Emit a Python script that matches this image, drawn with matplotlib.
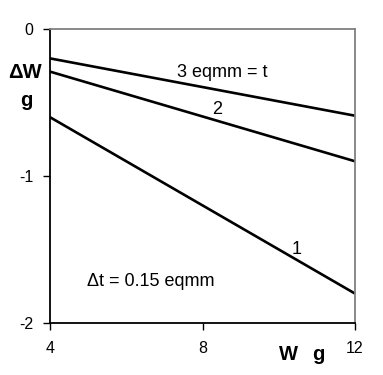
import matplotlib
matplotlib.use("Agg")
import matplotlib.pyplot as plt

plt.rcParams['font.family'] = ['Liberation Sans', 'DejaVu Sans']

w_values = [4, 8, 12]
dW_line1 = [-0.60, -1.20, -1.80]
dW_line2 = [-0.29, -0.595, -0.90]
dW_line3 = [-0.20, -0.395, -0.59]
x_ticks = [4, 8, 12]
y_ticks = [0, -1, -2]

fig = plt.figure(figsize=(3.83, 3.75), dpi=100)
ax = fig.add_axes([0.1305, 0.1387, 0.927 - 0.1305, 0.9227 - 0.1387])

for ys in (dW_line1, dW_line2, dW_line3):
    ax.plot(w_values, ys, color='black', lw=1.9, solid_capstyle='butt')

ax.set_xlim(4, 12)
ax.set_ylim(-2, 0)
ax.set_xticks(x_ticks)
ax.set_yticks(y_ticks)
ax.set_xticklabels([str(v) for v in x_ticks])
ax.set_yticklabels([str(v) for v in y_ticks])
ax.tick_params(direction='out', length=5, width=1, labelsize=11.5, color='black')
ax.tick_params(axis='y', pad=7)
ax.tick_params(axis='x', pad=8)

ax.spines['left'].set_color('black')
ax.spines['bottom'].set_color('black')
ax.spines['top'].set_color('#808080')
ax.spines['right'].set_color('#808080')
for s in ax.spines.values():
    s.set_linewidth(1.3)

ax.text(8.52, -0.293, '3 eqmm = t', fontsize=13, ha='center', va='center')
ax.text(8.38, -0.551, '2', fontsize=13, ha='center', va='center')
ax.text(10.48, -1.503, '1', fontsize=13, ha='center', va='center')
ax.text(4.97, -1.72, 'Δt = 0.15 eqmm', fontsize=13, ha='left', va='center')

fig.text(25 / 383, 1 - 72 / 375, 'ΔW', fontsize=14.5, fontweight='bold', ha='center', va='center')
fig.text(26 / 383, 1 - 100 / 375, 'g', fontsize=14.5, fontweight='bold', ha='center', va='center')
fig.text(288 / 383, 1 - 355 / 375, 'W', fontsize=14.5, fontweight='bold', ha='center', va='center')
fig.text(318 / 383, 1 - 355 / 375, 'g', fontsize=14.5, fontweight='bold', ha='center', va='center')

fig.savefig('out.png', dpi=100)
